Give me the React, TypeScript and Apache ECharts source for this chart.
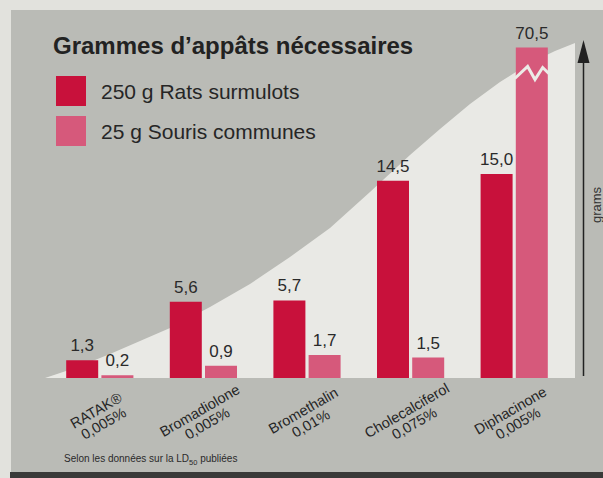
import React, { useEffect, useRef } from 'react';
import * as echarts from 'echarts';

// ---- data ----
const categories = [
  'RATAK®\n0,005%',
  'Bromadiolone\n0,005%',
  'Bromethalin\n0,01%',
  'Cholecalciferol\n0,075%',
  'Diphacinone\n0,005%',
];
const seriesNames = ['250 g Rats surmulots', '25 g Souris communes'];
const ratsGrams = [1.3, 5.6, 5.7, 14.5, 15.0];
const miceGrams = [0.2, 0.9, 1.7, 1.5, 70.5];
const Y_MAX = 25;
const BREAK_AT = 24.3; // a bar above this is drawn broken
const titleText = 'Grammes d’appâts nécessaires';
const axisName = 'grams';

const RED = '#c8113b';
const PINK = '#d6597b';
const SANS = "'Liberation Sans', Arial, sans-serif";

const fmt = (v: number) => v.toFixed(1).replace('.', ',');

const BAR_W = 32;
const BAR_GAP = 0.1;

export default function App() {
  const ref = useRef<HTMLDivElement>(null);
  useEffect(() => {
    if (!ref.current) return;
    const chart = echarts.init(ref.current, undefined, { renderer: 'svg' });
    const miceShown = miceGrams.map((v) => Math.min(v, BREAK_AT));
    const broken = miceGrams
      .map((v, i) => (v > BREAK_AT ? [i, miceShown[i]] : null))
      .filter((d) => d !== null);

    const option: any = {
      animation: false,
      backgroundColor: '#e2e2dd',
      title: {
        text: titleText,
        left: 48,
        top: 28,
        textStyle: { fontFamily: SANS, fontWeight: 'bold', fontSize: 24, color: '#222' },
      },
      legend: {
        orient: 'vertical',
        left: 51,
        top: 71,
        itemWidth: 30,
        itemHeight: 30,
        itemGap: 10,
        icon: 'rect',
        selectedMode: false,
        data: seriesNames,
        textStyle: { fontFamily: SANS, fontSize: 21, color: '#262626', padding: [0, 0, 0, 10] },
      },
      grid: { left: 48, right: 37, top: 38, bottom: 100 },
      xAxis: {
        type: 'category',
        data: categories,
        axisLine: { show: false },
        axisTick: { show: false },
        axisLabel: {
          interval: 0,
          rotate: 30,
          align: 'center',
          verticalAlign: 'middle',
          margin: 39,
          fontFamily: SANS,
          fontSize: 14.5,
          lineHeight: 15,
          color: '#262626',
        },
      },
      yAxis: { type: 'value', min: 0, max: Y_MAX, show: false },
      graphic: [
        { type: 'rect', z: -10, shape: { x: 11, y: 10, width: 592, height: 463 }, style: { fill: '#babbb6' } },
        { type: 'rect', z: -9, shape: { x: 10, y: 472, width: 593, height: 6 }, style: { fill: '#3a3a39' } },
        {
          type: 'polygon',
          z: -8,
          shape: {
            points: [
              [45, 378], [75, 368], [110, 354], [170, 328], [210, 307], [250, 284], [290, 257],
              [330, 228], [370, 192], [410, 155], [440, 129], [470, 104], [500, 82], [530, 63],
              [555, 51], [575, 43], [575, 378],
            ],
          },
          style: { fill: '#e9e9e5' },
        },
        { type: 'line', z: -5, shape: { x1: 583.5, y1: 376, x2: 583.5, y2: 55 }, style: { stroke: '#222', lineWidth: 1.5 } },
        { type: 'polygon', z: -5, shape: { points: [[577.5, 63], [583.5, 40], [589.5, 63]] }, style: { fill: '#222' } },
        {
          type: 'text',
          x: 596,
          y: 205,
          rotation: Math.PI / 2,
          style: { text: axisName, fill: '#333', font: `13px ${SANS}`, align: 'center', verticalAlign: 'middle' },
        },
        {
          type: 'text',
          x: 64,
          y: 453,
          style: {
            text: '{a|Selon les données sur la LD}{s|50}{a| publiées}',
            rich: {
              a: { fill: '#2a2a2a', fontFamily: SANS, fontSize: 10, lineHeight: 14, verticalAlign: 'top' },
              s: { fill: '#2a2a2a', fontFamily: SANS, fontSize: 7.5, lineHeight: 14, verticalAlign: 'top', padding: [5, 0, 0, 0] },
            },
          },
        },
      ],
      series: [
        {
          name: seriesNames[0],
          type: 'bar',
          data: ratsGrams,
          barWidth: BAR_W,
          barGap: `${BAR_GAP * 100}%`,
          itemStyle: { color: RED },
          label: {
            show: true,
            position: 'top',
            distance: 6,
            formatter: (p: any) => fmt(ratsGrams[p.dataIndex]),
            fontFamily: SANS,
            fontSize: 17,
            color: '#2a2a2a',
          },
        },
        {
          name: seriesNames[1],
          type: 'bar',
          data: miceShown,
          barWidth: BAR_W,
          barGap: `${BAR_GAP * 100}%`,
          itemStyle: { color: PINK },
          label: {
            show: true,
            position: 'top',
            distance: 6,
            formatter: (p: any) => fmt(miceGrams[p.dataIndex]),
            fontFamily: SANS,
            fontSize: 17,
            color: '#2a2a2a',
          },
        },
        {
          type: 'custom',
          z: 5,
          silent: true,
          data: broken,
          renderItem: (_params: any, api: any) => {
            const pt = api.coord([api.value(0), api.value(1)]);
            const cx = pt[0] + (BAR_W * (1 + BAR_GAP)) / 2;
            const x0 = cx - BAR_W / 2;
            const y = pt[1];
            return {
              type: 'polyline',
              shape: {
                points: [
                  [x0 - 1, y + 31],
                  [x0 + 0.37 * BAR_W, y + 19],
                  [x0 + 0.6 * BAR_W, y + 32],
                  [x0 + 0.84 * BAR_W, y + 20],
                  [x0 + BAR_W + 1, y + 26],
                ],
              },
              style: { stroke: '#ecebe7', lineWidth: 3, fill: null },
            };
          },
        },
      ],
    };
    chart.setOption(option);
    return () => chart.dispose();
  }, []);
  return (
    <div
      ref={ref}
      style={{ position: 'fixed', left: 0, top: 0, width: 603, height: 478 }}
    />
  );
}
